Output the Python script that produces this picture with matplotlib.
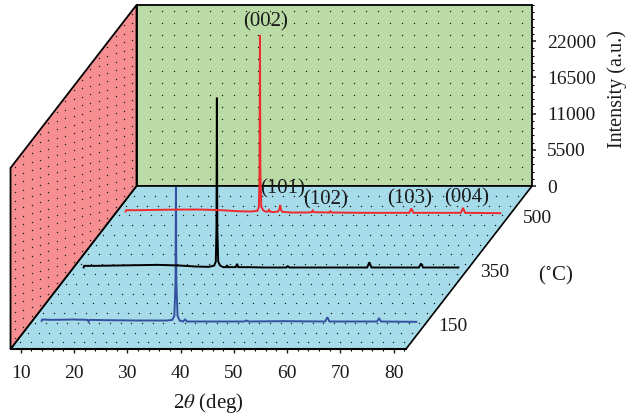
import matplotlib
matplotlib.use('Agg')
import matplotlib.pyplot as plt
from matplotlib.patches import Polygon
from matplotlib.ticker import MultipleLocator
from matplotlib.transforms import Affine2D
import numpy as np

plt.rcParams['font.family'] = ['Liberation Serif', 'DejaVu Serif']
plt.rcParams['mathtext.fontset'] = 'stix'

W, H = 626, 419

# depth categories, front to back
temperatures = ['150', '350', '500']
intensity_ticks = [0, 5500, 11000, 16500, 22000]
theta_ticks = [10, 20, 30, 40, 50, 60, 70, 80]

theta_500 = [10.0, 10.1, 12, 16, 20, 24, 28, 31, 33.5, 34.7, 35.0, 35.12, 35.2, 35.28, 35.45, 35.8, 36.2, 36.7, 36.9,
             37.1, 37.6, 38.6, 38.85, 39.0, 39.15, 39.4, 41, 44, 44.9, 45.1, 45.3, 48.2, 48.4, 48.6, 55, 63.2, 63.6,
             64.0, 72.9, 73.3, 73.7, 80.3]
int_500 = [250, 450, 450, 500, 550, 550, 450, 300, 250, 350, 900, 6000, 27000, 6000, 1000, 450, 250, 250, 500,
           250, 150, 250, 600, 1250, 500, 200, 100, 100, 150, 400, 150, 100, 300, 100, 50, 50, 700,
           50, 50, 800, 50, 0]

theta_350 = [10.0, 10.1, 12, 16, 20, 24, 28, 31, 33.5, 34.5, 34.8, 34.92, 35.0, 35.08, 35.25, 35.6, 36.2, 36.7, 36.9,
             37.1, 37.6, 38.5, 38.8, 39.0, 41, 44, 48.0, 48.3, 48.6, 55, 63.2, 63.6, 64.0, 72.9, 73.3, 73.7, 80.3]
int_350 = [0, 250, 250, 300, 350, 400, 300, 150, 100, 300, 900, 6000, 25800, 6000, 900, 300, 50, 50, 350,
           50, 50, 50, 550, 50, 50, 0, 0, 200, 0, 0, 0, 800, 0, 0, 600, 0, 0]

theta_150 = [10.0, 10.1, 12, 16, 18.6, 18.8, 19.0, 22, 28, 33.5, 34.5, 34.9, 35.12, 35.2, 35.28, 35.5, 35.9, 36.5, 36.9,
             37.3, 38, 44, 48.0, 48.4, 48.8, 55, 63.2, 63.6, 64.0, 72.9, 73.3, 73.7, 80.3]
int_150 = [150, 350, 300, 350, 300, 50, 300, 250, 200, 200, 300, 900, 6000, 20500, 6000, 900, 200, 50, 350,
           50, 50, 50, 50, 200, 50, 100, 50, 700, 50, 50, 500, 50, 0]

hkl_labels = ['(002)', '(101)', '(102)', '(103)', '(004)']
hkl_theta = [36.2, 39.4, 47.5, 63.3, 74.0]
hkl_int = [29000, 3650, 1970, 2120, 2270]


def from_top(y):
    return H - y


fig = plt.figure(figsize=(W / 100, H / 100), dpi=100)
x0, x1 = 10.5, 406
dx, dy = 126, 163
ax_h = 181
xlim = (8.1, 82.3)
ylim = (0, 27500)
depth_lim = (0.5, 3.5)
dot_color = '#1a1a1a'

# back wall
ax_back = fig.add_axes([(x0 + dx) / W, (H - 349 + dy) / H, (x1 - x0) / W, ax_h / H], facecolor='#BADBA5', zorder=1)
ax_back.set_xlim(xlim)
ax_back.set_ylim(ylim)
ax_back.xaxis.set_visible(False)
ax_back.yaxis.tick_right()
ax_back.set_yticks(intensity_ticks)
ax_back.yaxis.set_minor_locator(MultipleLocator(1100))
ax_back.tick_params(axis='y', which='major', length=3, width=1.1, pad=8, labelsize=14, colors='#1a1a1a')
ax_back.tick_params(axis='y', which='minor', length=1.5, width=0.8)
for s in ax_back.spines.values():
    s.set_linewidth(1.3)
gx, gy = np.meshgrid(np.arange(10.6, 82, 2.25), np.arange(1000, 27000, 1825))
ax_back.scatter(gx.ravel(), gy.ravel(), s=1.0, color=dot_color, linewidths=0)

# front plane carries the 2theta axis, the walls and floor are sheared from it
ax = fig.add_axes([x0 / W, (H - 349) / H, (x1 - x0) / W, ax_h / H], zorder=2)
ax.patch.set_visible(False)
ax.set_xlim(xlim)
ax.set_ylim(ylim)
for k in ['top', 'left', 'right']:
    ax.spines[k].set_visible(False)
ax.spines['bottom'].set_linewidth(1.5)
ax.yaxis.set_visible(False)
ax.set_xticks(theta_ticks)
ax.xaxis.set_minor_locator(MultipleLocator(2))
ax.tick_params(axis='x', which='major', length=3, width=1.0, pad=8.5, labelsize=14, colors='#1a1a1a')
ax.tick_params(axis='x', which='minor', length=1.5, width=0.8)

px_x = (x1 - x0) / (xlim[1] - xlim[0])
px_d = 1 / (depth_lim[1] - depth_lim[0])
base_y = from_top(349)
floor_tf = Affine2D.from_values(px_x, 0, dx * px_d, dy * px_d,
                                x0 - xlim[0] * px_x - depth_lim[0] * dx * px_d,
                                base_y - depth_lim[0] * dy * px_d)
px_i = ax_h / ylim[1]
wall_tf = Affine2D.from_values(dx * px_d, dy * px_d, 0, px_i,
                               x0 - depth_lim[0] * dx * px_d,
                               base_y - depth_lim[0] * dy * px_d)

ax.add_patch(Polygon([(xlim[0], 0.5), (xlim[1], 0.5), (xlim[1], 3.5), (xlim[0], 3.5)], closed=True, transform=floor_tf,
                     facecolor='#A6DBEA', edgecolor='black', lw=1.2, clip_on=False, zorder=1))
ax.add_patch(Polygon([(0.5, 0), (3.5, 0), (3.5, ylim[1]), (0.5, ylim[1])], closed=True, transform=wall_tf,
                     facecolor='#F58F92', edgecolor='black', lw=1.3, clip_on=False, zorder=1))

fx, fd = np.meshgrid(np.arange(9, 82, 2), np.arange(0.62, 3.45, 0.18))
ax.scatter(fx.ravel(), fd.ravel(), s=1.0, color=dot_color, linewidths=0, transform=floor_tf, clip_on=False, zorder=2)
wd, wi = np.meshgrid(np.arange(0.6, 3.45, 0.2), np.arange(900, 27000, 1300))
ax.scatter(wd.ravel(), wi.ravel(), s=1.0, color=dot_color, linewidths=0, transform=wall_tf, clip_on=False, zorder=2)

series = [(theta_150, int_150, '#34509F'), (theta_350, int_350, '#000000'), (theta_500, int_500, '#EE2A2E')]
trans = []
for i, (t, v, c) in enumerate(series):
    frac = (i + 1 - depth_lim[0]) * px_d
    tf = ax.transData + Affine2D().translate(dx * frac, dy * frac)
    trans.append(tf)
    ax.plot(t, v, color=c, lw=1.4, transform=tf, clip_on=False, zorder=3, solid_joinstyle='miter')

for lab, t, v in zip(hkl_labels, hkl_theta, hkl_int):
    ax.text(t, v, lab, transform=trans[2], ha='center', va='center', fontsize=15, color='#1a1a1a', clip_on=False, zorder=4)

# depth axis labels
for i, lab in enumerate(temperatures):
    frac = (i + 1 - depth_lim[0]) * px_d
    ax.text(x1 + dx * frac + 26, from_top(349) + dy * frac - 5, lab, transform=None, ha='center', va='center',
            fontsize=14, color='#1a1a1a', clip_on=False)

fig.text(556 / W, 1 - 275 / H, '($^{\\circ}$C)', ha='center', va='center', fontsize=15, color='#1a1a1a')
fig.text(208 / W, 1 - 403 / H, '2$\\theta$ (deg)', ha='center', va='center', fontsize=15, color='#1a1a1a')
fig.text(617.5 / W, 1 - 89 / H, 'Intensity (a.u.)', rotation=90, ha='center', va='center', fontsize=14.5, color='#1a1a1a')

fig.savefig('out.png', dpi=100)
